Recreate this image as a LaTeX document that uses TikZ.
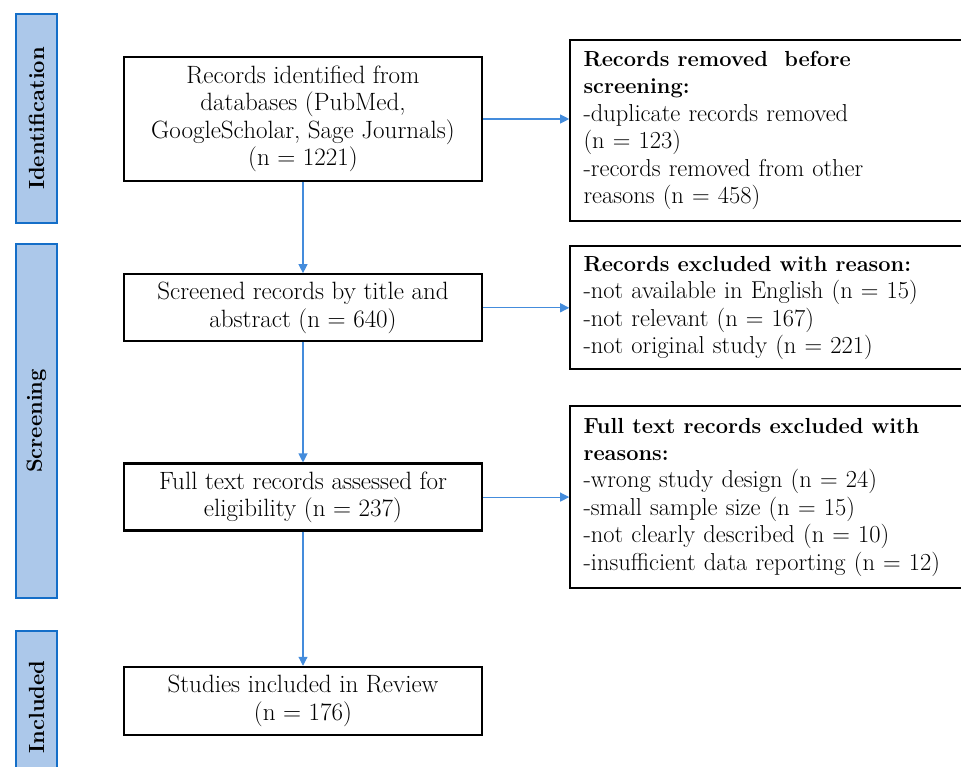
\documentclass[tikz,border=0pt]{standalone}
\usepackage{fontspec}
\usepackage{tikz}
\usetikzlibrary{arrows.meta, positioning}
\definecolor{flowblue}{RGB}{68,140,220}
\definecolor{barfill}{RGB}{172,200,234}
\definecolor{barline}{RGB}{20,110,200}
\newcommand{\boxhead}[1]{{\fontsize{15.5}{19.5}\selectfont\bfseries #1}}
\tikzstyle{block}=[rectangle, draw=black, line width=1.6pt, fill=white,
                   minimum width=8.95cm, align=center, inner sep=0pt,
                   font=\fontsize{17.8}{19.5}\selectfont]
\tikzstyle{note}=[rectangle, draw=black, line width=1.6pt, fill=white,
                  text width=9.725cm, align=left, inner xsep=0.33cm, inner ysep=0pt,
                  font=\fontsize{17.4}{19.5}\selectfont]
\tikzstyle{phase}=[rectangle, draw=barline, line width=1.6pt, fill=barfill,
                   rotate=90, minimum height=1.025cm,
                   font=\fontsize{15.6}{18}\selectfont\bfseries]
\tikzstyle{arrow}=[-{Triangle[length=6.4pt, width=6.4pt]}, line width=0.8pt, color=flowblue]

\begin{document}
\begin{tikzpicture}[x=0.025cm, y=-0.025cm]
  \useasboundingbox (0,0) rectangle (961,767);

  % Main flow
  \node[block, minimum height=3.1cm] (ident) at (303,119)
        {Records identified from\\databases (PubMed,\\GoogleScholar, Sage Journals)\\(n = 1221)};
  \node[block, minimum height=1.675cm, below=2.275cm of ident] (screen)
        {Screened records by title and\\abstract (n = 640)};
  \node[block, minimum height=1.675cm, below=3.0cm of screen] (fulltext)
        {Full text records assessed for\\eligibility (n = 237)};
  \node[block, minimum height=1.7cm, below=3.35cm of fulltext] (incl)
        {Studies included in Review\\(n = 176)};

  % Exclusions
  \node[note, minimum height=4.525cm, right=2.15cm of ident, yshift=-0.2875cm] (removed)
        {\boxhead{Records removed\ \ before}\\\boxhead{screening:}\\-duplicate records removed\\(n = 123)\\-records removed from other\\reasons (n = 458)};
  \node[note, minimum height=3.075cm, right=2.15cm of screen] (excl)
        {\boxhead{Records excluded with reason:}\\-not available in English (n = 15)\\-not relevant (n = 167)\\-not original study (n = 221)};
  \node[note, minimum height=4.55cm, right=2.15cm of fulltext] (ftexcl)
        {\boxhead{Full text records excluded with}\\\boxhead{reasons:}\\-wrong study design (n = 24)\\-small sample size (n = 15)\\-not clearly described (n = 10)\\-insufficient data reporting (n = 12)};

  % Phases
  \node[phase, minimum width=5.225cm] (idbar) at (36.5,118.5) {Identification};
  \node[phase, minimum width=8.85cm] (scrbar) at (36.5,421) {Screening};
  \node[phase, minimum width=3.8cm] (incbar) at (36.5,707) {Included};

  % Arrows
  \draw[arrow] (ident) -- (screen);
  \draw[arrow] (screen) -- (fulltext);
  \draw[arrow] (fulltext) -- (incl);
  \draw[arrow] (ident.east) -- (ident.east -| removed.west);
  \draw[arrow] (screen.east) -- (screen.east -| excl.west);
  \draw[arrow] (fulltext.east) -- (fulltext.east -| ftexcl.west);
\end{tikzpicture}
\end{document}
